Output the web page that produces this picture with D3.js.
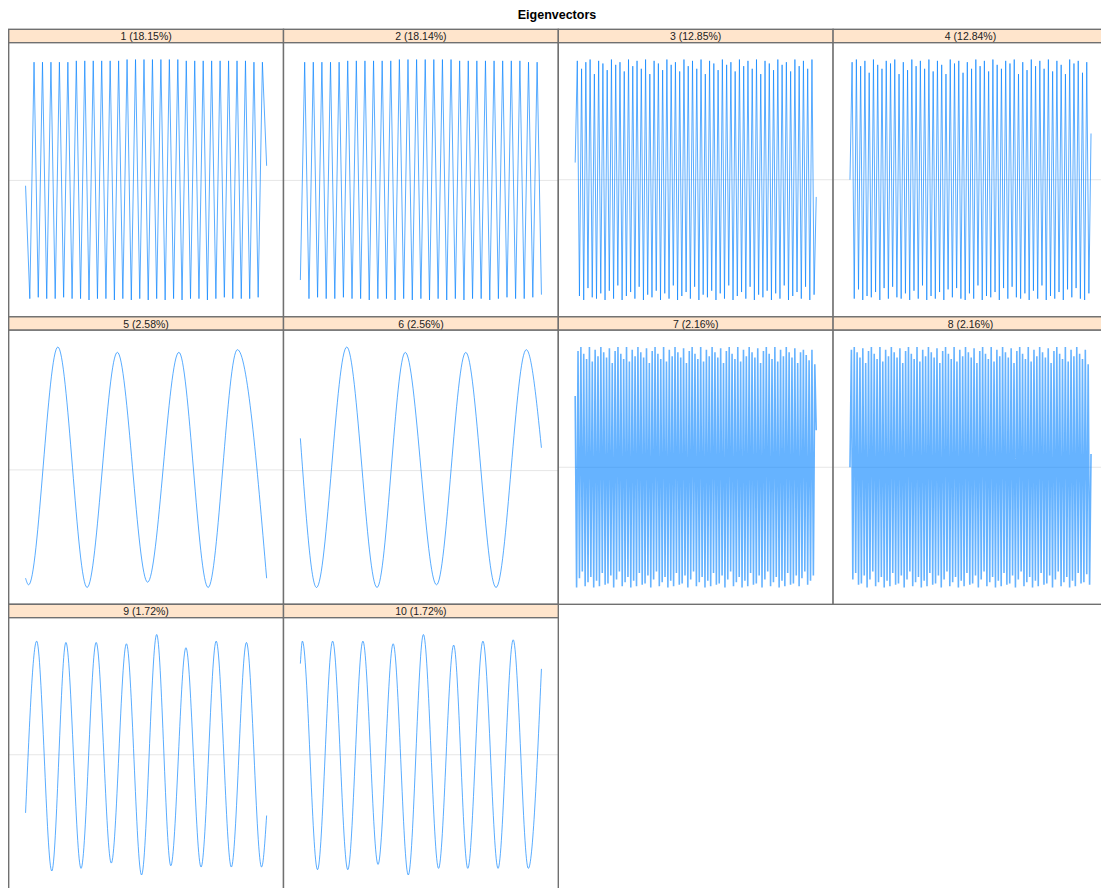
<!DOCTYPE html>
<html>
<head>
<meta charset="utf-8">
<script src="https://cdn.jsdelivr.net/npm/d3@7"></script>
<style>
  html, body { margin: 0; padding: 0; background: #fff; overflow: hidden; }
  svg { display: block; }
</style>
</head>
<body>
<svg id="chart" width="1101" height="888"></svg>
<script>
// Eigenvector components, in thousandths; sample index runs 1..L.
const L = 240;

const panelLabels = ["1 (18.15%)", "2 (18.14%)", "3 (12.85%)", "4 (12.84%)",
                     "5 (2.58%)", "6 (2.56%)", "7 (2.16%)", "8 (2.16%)",
                     "9 (1.72%)", "10 (1.72%)"];

// Turning points of the fast components (evenly spaced along the index range)
const ev1 = [-4,
  -89,89, -88,89, -89,89, -89,89, -88,89,
  -89,90, -89,90, -90,90, -89,90, -89,90,
  -90,90, -89,91, -90,91, -89,91, -90,91,
  -89,91, -90,91, -89,91, -90,90, -89,90,
  -89,90, -90,90, -89,90, -88,90, -89,90,
  -89,90, -89,89, -88,89,
  11];
const ev2 = [-75,
  89,-89, 89,-88, 89,-89, 89,-89, 89,-88,
  90,-89, 90,-89, 90,-90, 90,-89, 90,-89,
  90,-90, 91,-89, 91,-90, 91,-89, 91,-90,
  91,-89, 91,-90, 91,-89, 90,-90, 90,-89,
  90,-89, 90,-90, 90,-89, 90,-88, 90,-89,
  90,-89, 89,-88, 89,-86];
const ev3 = [13,
  90,-88,84,-91,89,-82,91,-89,80,-90,
  90,-86,88,-91,83,-84,91,-90,87,-80,
  89,-91,82,-88,91,-85,86,-90,90,-81,
  84,-91,91,-87,80,-89,90,-84,88,-91,
  83,-86,91,-90,87,-80,89,-91,82,-88,
  91,-85,86,-90,90,-81,84,-91,91,-87,
  80,-89,90,-84,88,-91,83,-86,91,-90,
  87,-80,89,-91,82,-88,91,-85,86,-90,
  90,-81,84,-91,91,-87,80,-89,90,-84,
  88,-91,83,-86,91,-90,87,-80,89,-91,
  82,-88,91,-85,86,-90,90,-81,84,-91,
  91,-87,
  -13];
const ev4 = [0,
  89,-90,91,-83,86,-91,90,-88,81,-89,
  91,-85,87,-91,84,-82,90,-90,88,-81,
  91,-89,80,-90,89,-86,83,-91,91,-84,
  86,-90,90,-80,84,-91,91,-88,82,-90,
  90,-85,87,-91,80,-83,91,-89,88,-82,
  90,-90,81,-91,89,-86,84,-90,91,-80,
  86,-91,90,-88,82,-89,91,-85,87,-91,
  84,-82,90,-90,88,-81,91,-89,80,-90,
  89,-86,83,-91,91,-84,86,-90,90,-80,
  84,-91,91,-88,82,-90,90,-85,87,-91,
  80,-83,91,-89,88,-82,90,-90,81,-91,
  89,-86,
  35];
const ev7 = [54,
  -91,88,-84,91,-79,86,-90,82,-87,91,
  -83,80,-91,89,-86,84,-90,91,-80,87,
  -89,83,-88,90,-82,79,-91,88,-85,91,
  -79,86,-90,82,-87,91,-83,80,-91,89,
  -86,84,-90,91,-80,87,-89,83,-88,90,
  -82,79,-91,88,-85,91,-79,86,-90,82,
  -87,91,-83,80,-91,89,-86,84,-90,91,
  -80,87,-89,83,-88,90,-82,79,-91,88,
  -85,91,-79,86,-90,82,-87,91,-83,80,
  -91,89,-86,84,-90,91,-80,87,-89,83,
  -88,90,-82,79,-91,88,-85,91,-79,86,
  -90,82,-87,91,-83,80,-91,89,-86,84,
  -90,91,-80,87,-89,83,-88,90,-82,79,
  -91,88,-85,91,-79,86,-90,82,-87,91,
  -83,80,-91,89,-86,84,-90,91,-80,87,
  -89,83,-88,90,-82,79,-90,87,-84,89,
  -79,85,-89,81,-86,89,-82,78,
  28];
const ev8 = [0,
  89,-85,91,-80,87,-89,83,-88,90,-82,
  79,-91,88,-85,91,-79,86,-90,82,-87,
  91,-83,80,-91,89,-86,84,-90,91,-80,
  87,-89,83,-88,90,-82,79,-91,88,-85,
  91,-79,86,-90,82,-87,91,-83,80,-91,
  89,-86,84,-90,91,-80,87,-89,83,-88,
  90,-82,79,-91,88,-85,91,-79,86,-90,
  82,-87,91,-83,80,-91,89,-86,84,-90,
  91,-80,87,-89,83,-88,90,-82,79,-91,
  88,-85,91,-79,86,-90,82,-87,91,-83,
  80,-91,89,-86,84,-90,91,-80,87,-89,
  83,-88,90,-82,79,-91,88,-85,91,-79,
  86,-90,82,-87,91,-83,80,-91,89,-86,
  84,-90,91,-80,87,-89,83,-88,90,-82,
  79,-91,88,-85,91,-79,86,-90,82,-87,
  91,-83,80,-91,89,-86,84,-90,91,-80,
  86,-88,82,-87,89,-81,78,-89,
  10];

// Slow components: index of each turning point and its value
const t5  = [1, 4, 33, 62, 92, 122, 153, 182, 211, 240];
const ev5 = [-82, -87, 93, -89, 89, -85, 89, -89, 91, -82];
const t6  = [1, 17, 47, 77, 105, 136, 165, 195, 225, 240];
const ev6 = [24, -87, 92, -87, 88, -85, 88, -87, 90, 17];
const t9  = [1, 12, 27, 41, 56, 71, 86, 101, 116, 131, 145, 160, 175, 190, 205, 220, 235, 240];
const ev9 = [-44, 86, -88, 85, -86, 85, -82, 84, -91, 91, -84, 81, -85, 86, -85, 85, -85, -46];
const t10  = [1, 3, 18, 33, 48, 63, 78, 93, 108, 123, 138, 153, 167, 182, 197, 212, 227, 240];
const ev10 = [69, 86, -87, 86, -87, 86, -83, 84, -91, 91, -86, 83, -86, 86, -86, 87, -86, 65];

const series = [
  { values: ev1 }, { values: ev2 }, { values: ev3 }, { values: ev4 },
  { values: ev5, index: t5 }, { values: ev6, index: t6 },
  { values: ev7, dense: true }, { values: ev8, dense: true },
  { values: ev9, index: t9 }, { values: ev10, index: t10 }
];

// ---- layout (lattice-style 4 x 3 grid with strips) ----
const ncol = 4;
const gridLeft = 8.7, gridTop = 29.3;
const cellW = 274.8, rowH = 287.5, stripH = 13.4, panelH = 274.1;
const pad = 0.07;
const lineColor = "#0080ff";
const borderColor = "#707070";

const svg = d3.select("#chart");

svg.append("text")
  .attr("x", 557).attr("y", 19)
  .attr("text-anchor", "middle")
  .attr("font-family", "Liberation Sans, Arial, sans-serif")
  .attr("font-weight", "bold")
  .attr("font-size", 12.5)
  .attr("fill", "#000")
  .text("Eigenvectors");

series.forEach((s, i) => {
  const col = i % ncol, row = Math.floor(i / ncol);
  const x0 = gridLeft + col * cellW;
  const sTop = gridTop + row * rowH;
  const pTop = sTop + stripH;
  const pBot = pTop + panelH;

  const idx = s.index || s.values.map((_, k) => 1 + k * (L - 1) / (s.values.length - 1));
  const pts = s.values.map((v, k) => [idx[k], v]);

  const xs = d3.scaleLinear()
    .domain([1 - pad * (L - 1), L + pad * (L - 1)])
    .range([x0, x0 + cellW]);
  const [ymin, ymax] = d3.extent(s.values);
  const yr = ymax - ymin;
  const ys = d3.scaleLinear()
    .domain([ymin - pad * yr, ymax + pad * yr])
    .range([pBot, pTop]);

  const g = svg.append("g");

  // strip
  g.append("rect")
    .attr("x", x0).attr("y", sTop)
    .attr("width", cellW).attr("height", stripH)
    .attr("fill", "#ffe5cc")
    .attr("stroke", borderColor).attr("stroke-width", 1.4);
  g.append("text")
    .attr("x", x0 + cellW / 2).attr("y", sTop + stripH - 2.4)
    .attr("text-anchor", "middle")
    .attr("font-family", "Liberation Sans, Arial, sans-serif")
    .attr("font-size", 10.5)
    .attr("fill", "#222")
    .text(panelLabels[i]);

  // panel body
  g.append("rect")
    .attr("x", x0).attr("y", pTop)
    .attr("width", cellW).attr("height", panelH)
    .attr("fill", "#fff");

  // zero reference line
  g.append("line")
    .attr("x1", x0).attr("x2", x0 + cellW)
    .attr("y1", ys(0)).attr("y2", ys(0))
    .attr("stroke", "#e6e6e6").attr("stroke-width", 1);

  const line = d3.line()
    .x(d => xs(d[0]))
    .y(d => ys(d[1]))
    .curve(s.index ? d3.curveMonotoneX : d3.curveLinear);

  g.append("path")
    .datum(pts)
    .attr("d", line)
    .attr("fill", "none")
    .attr("stroke", lineColor)
    .attr("stroke-opacity", s.dense ? 0.6 : 0.65)
    .attr("stroke-width", s.dense ? 1.6 : 1);

  g.append("rect")
    .attr("x", x0).attr("y", pTop)
    .attr("width", cellW).attr("height", panelH)
    .attr("fill", "none")
    .attr("stroke", borderColor).attr("stroke-width", 1.4);
});
</script>
</body>
</html>
